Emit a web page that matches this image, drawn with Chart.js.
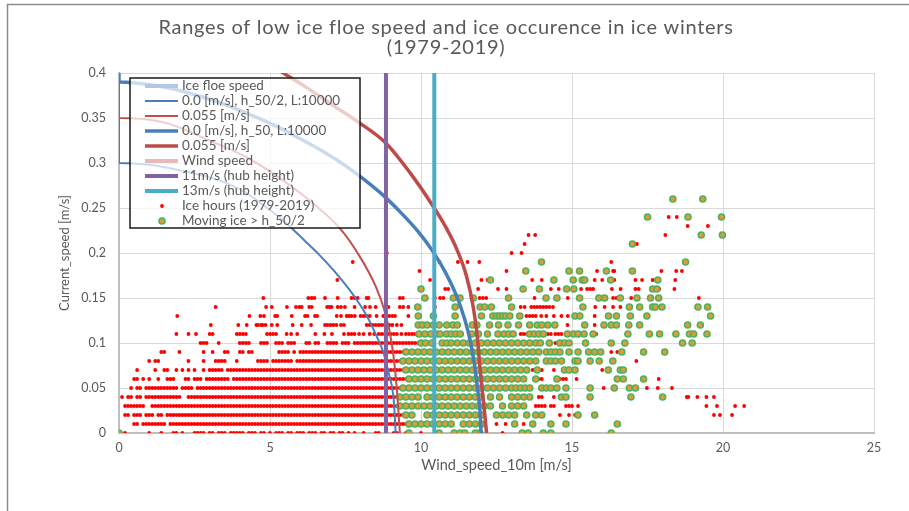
<!DOCTYPE html>
<html>
<head>
<meta charset="utf-8">
<script src="https://cdn.jsdelivr.net/npm/chart.js@4/dist/chart.umd.min.js"></script>
<style>
  html, body { margin: 0; padding: 0; background: #ffffff; }
  canvas { display: block; }
</style>
</head>
<body>
<canvas id="iceChart" width="909" height="511"></canvas>
<script>
// =============================
// Title / axis texts
// =============================
const titleLines = ["Ranges of low ice floe speed and ice occurence in ice winters", "(1979-2019)"];
const xTitle = "Wind_speed_10m [m/s]";
const yTitle = "Current_speed [m/s]";

// axis ranges
const windMax = 25;
const windStep = 5;
const currentMax = 0.4;
const currentStep = 0.05;

// =============================
// Ice floe speed curves (wind, current)
// =============================
// 0.0 [m/s], h_50/2, L:10000
const halfWind    = [0, 0, 1.0, 2.0, 3.0, 3.6, 4.2, 4.67, 5.3, 5.8, 6.2, 6.6, 7.1, 7.59, 7.87, 8.1, 8.3, 8.55, 8.75, 8.92, 9.08, 9.13, 9.16];
const halfCurrent = [0.4, 0.3, 0.298, 0.292, 0.284, 0.277, 0.267, 0.256, 0.24, 0.225, 0.212, 0.199, 0.181, 0.161, 0.148, 0.136, 0.124, 0.106, 0.09, 0.068, 0.042, 0.02, 0];

// 0.055 [m/s] (h_50/2)
const halfRedWind    = [0, 0, 1.5, 3.0, 4.3, 5.5, 6.5, 7.35, 7.9, 8.5, 8.8, 9.03, 9.19, 9.3];
const halfRedCurrent = [0.4, 0.35, 0.345, 0.325, 0.305, 0.279, 0.253, 0.226, 0.2, 0.163, 0.135, 0.1, 0.053, 0];

// 0.0 [m/s], h_50, L:10000
const fullWind    = [0, 0, 1.2, 2.4, 3.5, 4.4, 5.2, 6.0, 6.8, 7.5, 8.1, 8.75, 9.3, 9.9, 10.41, 10.8, 11.18, 11.45, 11.62, 11.76, 11.87, 11.95, 11.99];
const fullCurrent = [0.4, 0.39, 0.386, 0.377, 0.365, 0.353, 0.341, 0.327, 0.312, 0.297, 0.282, 0.264, 0.246, 0.224, 0.201, 0.179, 0.152, 0.126, 0.104, 0.078, 0.05, 0.025, 0];

// 0.055 [m/s] (h_50)
const fullRedWind    = [4.3, 5.44, 6.2, 7.0, 7.9, 8.84, 9.64, 10.4, 10.8, 11.2, 11.5, 11.73, 11.86, 11.95, 12.05, 12.12, 12.17];
const fullRedCurrent = [0.425, 0.40, 0.384, 0.366, 0.346, 0.322, 0.289, 0.252, 0.23, 0.203, 0.175, 0.14, 0.108, 0.074, 0.04, 0.018, 0];

// hub height wind speeds translated to 10 m
const hub11Wind = 8.84;
const hub13Wind = 10.44;

// =============================
// Ice hours: one wind list per current level
// =============================
const currentLevels = [0, 0.01, 0.02, 0.03, 0.04, 0.05, 0.06, 0.07, 0.08, 0.09, 0.10, 0.11, 0.12, 0.13,
                       0.14, 0.15, 0.16, 0.17, 0.18, 0.19, 0.20, 0.21, 0.22, 0.23, 0.24, 0.25, 0.26];

const iceHoursWind = [
  [0.2,1,1.4,1.8,1.9,2.1,2.5,2.6,2.7,2.8,3,3.1,3.3,3.4,3.5,3.7,3.8,3.9,4,4.1,4.3,4.4,4.5,4.7,4.8,5,5.2,5.3,5.4,5.6,5.7,5.9,6,6.1,6.3,6.4,6.5,6.7,6.8,7,7.1,7.3,7.4,7.6,7.8,8.1,8.5,8.6,9.1,9.2,9.5,10,12.7],
  [0.5,0.6,0.8,0.9,1,1.1,1.2,1.3,1.4,1.5,1.7,1.8,1.9,2,2.1,2.2,2.3,2.4,2.5,2.6,2.7,2.8,2.9,3,3.1,3.2,3.3,3.4,3.5,3.6,3.7,3.8,3.9,4,4.1,4.2,4.3,4.4,4.5,4.6,4.7,4.8,4.9,5,5.1,5.2,5.3,5.4,5.5,5.6,5.7,5.8,5.9,6,6.1,6.2,6.3,6.4,6.5,6.6,6.7,6.8,6.9,7,7.1,7.2,7.3,7.4,7.5,7.6,7.7,7.8,7.9,8,8.1,8.2,8.3,8.4,8.5,8.6,8.7,8.8,8.9,9,9.1,9.2,9.3,9.4,9.5,12.1,12.5,12.8,13.4],
  [0.2,0.3,0.5,0.6,0.7,0.9,1,1.1,1.3,1.4,1.6,1.7,1.8,1.9,2,2.1,2.2,2.3,2.4,2.5,2.6,2.7,2.8,2.9,3,3.1,3.2,3.3,3.4,3.5,3.6,3.7,3.8,3.9,4,4.1,4.2,4.3,4.4,4.5,4.6,4.7,4.8,4.9,5,5.1,5.2,5.3,5.4,5.5,5.6,5.7,5.8,5.9,6,6.1,6.2,6.3,6.4,6.5,6.6,6.7,6.8,6.9,7,7.1,7.2,7.3,7.4,7.5,7.6,7.7,7.8,7.9,8,8.1,8.2,8.3,8.4,8.5,8.6,8.7,8.8,8.9,9,9.1,9.2,9.3,9.4,14.6,14.9,15.1,19.7,19.9,20.3],
  [0.2,0.3,0.4,0.5,0.6,0.7,0.8,1.1,1.2,1.3,1.4,1.5,1.6,1.7,1.8,1.9,2,2.1,2.2,2.3,2.4,2.5,2.6,2.7,2.8,2.9,3,3.1,3.2,3.3,3.4,3.5,3.6,3.7,3.8,3.9,4,4.1,4.2,4.3,4.4,4.5,4.6,4.7,4.8,4.9,5,5.1,5.2,5.3,5.4,5.5,5.6,5.7,5.8,5.9,6,6.1,6.2,6.3,6.4,6.5,6.6,6.7,6.8,6.9,7,7.1,7.2,7.3,7.4,7.5,7.6,7.7,7.8,7.9,8,8.1,8.2,8.3,8.4,8.5,8.6,8.7,8.8,8.9,9,9.1,9.2,9.3,13.8,13.9,14,14.1,14.3,14.4,14.8,14.9,15,15.2,19.45,19.8,20.4,20.7],
  [0.1,0.3,0.4,0.6,0.7,0.9,1,1.1,1.2,1.3,1.4,1.5,1.6,1.7,1.8,1.9,2,2.3,2.4,2.5,2.6,2.7,2.8,2.9,3,3.1,3.2,3.3,3.4,3.5,3.6,3.7,3.8,3.9,4,4.1,4.2,4.3,4.4,4.5,4.6,4.7,4.8,4.9,5,5.1,5.2,5.3,5.4,5.5,5.6,5.7,5.8,5.9,6,6.1,6.2,6.3,6.4,6.5,6.6,6.7,6.8,6.9,7,7.1,7.2,7.3,7.4,7.5,7.6,7.7,7.8,7.9,8,8.1,8.2,8.3,8.4,8.5,8.6,8.7,8.8,8.9,9,9.1,9.2,9.3,13.9,14,14.4,18.8,18.85,19.15,19.45,19.7],
  [0.4,0.6,0.7,0.9,1,1.1,1.2,1.3,1.4,1.5,1.6,1.7,1.8,1.9,2.1,2.2,2.3,2.4,2.6,2.7,2.8,2.9,3,3.1,3.2,3.3,3.4,3.5,3.6,3.7,3.8,3.9,4,4.1,4.2,4.3,4.4,4.5,4.6,4.7,4.8,4.9,5,5.1,5.2,5.3,5.4,5.5,5.6,5.7,5.8,5.9,6,6.1,6.2,6.3,6.4,6.5,6.6,6.7,6.8,6.9,7,7.1,7.2,7.3,7.4,7.5,7.6,7.7,7.8,7.9,8,8.1,8.2,8.3,8.4,8.5,8.6,8.7,8.8,8.9,9,9.1,9.2,9.3,16.05,17.48,17.84,18.31],
  [0.5,0.6,0.8,1,1.3,1.6,1.7,1.8,2.2,2.3,2.5,2.6,2.7,2.9,3,3.1,3.2,3.3,3.4,3.5,3.6,3.8,3.9,4,4.1,4.2,4.3,4.4,4.5,4.6,4.7,4.8,4.9,5,5.1,5.2,5.3,5.4,5.5,5.6,5.7,5.8,5.9,6,6.1,6.2,6.3,6.4,6.5,6.6,6.7,6.8,6.9,7,7.1,7.2,7.3,7.4,7.5,7.6,7.7,7.8,7.9,8,8.1,8.2,8.3,8.4,8.5,8.6,8.7,8.8,8.9,9,9.1,9.2,9.3,9.4,9.5,9.6,13.9,14,14.6,14.7,14.8,15.15,17.87],
  [0.6,1.2,1.5,1.6,1.9,2.1,2.3,2.5,2.8,3,3.1,3.2,3.3,3.4,3.6,3.7,3.8,3.9,4,4.1,4.2,4.3,4.4,4.5,4.6,4.7,4.8,4.9,5,5.1,5.2,5.3,5.4,5.5,5.6,5.7,5.8,5.9,6,6.1,6.2,6.3,6.4,6.5,6.6,6.7,6.8,6.9,7,7.1,7.2,7.3,7.4,7.5,7.6,7.7,7.8,7.9,8,8.1,8.2,8.3,8.4,8.5,8.6,8.7,8.8,8.9,9,9.1,9.2,9.3,9.4,9.5,13.7,13.8,13.9,14,14.4,16],
  [1,1.2,1.3,2.3,2.8,3.2,3.3,3.4,3.5,3.9,4.6,4.7,4.8,4.9,5.1,5.2,5.3,5.4,5.5,5.6,5.7,5.9,6,6.1,6.2,6.3,6.4,6.5,6.6,6.7,6.8,6.9,7,7.1,7.2,7.3,7.4,7.5,7.6,7.7,7.8,7.9,8,8.1,8.2,8.3,8.4,8.5,8.6,8.7,8.8,8.9,9,9.1,9.2,9.3,9.4,16.4,17.13],
  [1.4,1.5,2,2.8,3.1,3.5,3.6,4,4.1,4.3,4.4,5.3,5.4,5.5,5.6,5.8,6,6.1,6.2,6.3,6.4,6.5,6.6,6.7,6.8,6.9,7,7.1,7.2,7.3,7.4,7.5,7.6,7.7,7.8,7.9,8,8.1,8.2,8.3,8.4,8.5,8.6,8.7,8.8,8.9,9,9.1,9.2,9.3,9.4,9.5,16.3,16.5],
  [2.7,2.8,2.9,3.3,4,4.1,4.2,4.3,4.7,4.8,4.9,5.2,5.3,5.4,5.6,5.7,5.8,6.2,6.3,6.5,6.6,6.9,7,7.1,7.2,7.4,7.5,7.6,7.8,7.9,8,8.1,8.2,8.3,8.4,8.5,8.6,8.7,8.8,8.9,9,9.1,9.2,9.3,9.4,9.5,9.6,9.7,9.8,9.9,14.45],
  [1.9,2.3,2.55,3,3.1,3.9,4,4.1,4.2,4.9,5,5.1,5.2,5.55,5.7,5.9,6.5,6.8,7.05,7.45,7.6,7.7,7.8,7.95,8.1,8.3,8.45,8.6,8.7,8.8,8.9,9,9.1,9.2,9.35,9.5,9.6,9.7,9.8,13.3,13.4,13.5,14.2,14.3,14.45,14.55,14.65,15.8],
  [3.04,3.95,4.23,4.55,4.6,4.7,4.75,4.85,5.06,5.24,5.75,6.05,6.36,6.82,6.9,7,7.1,7.2,7.35,7.45,8.2,8.3,8.4,8.5,8.6,8.7,8.8,8.95,9.05,9.2,9.35,14.85,15.75],
  [1.93,4.32,4.68,4.8,5.17,5.24,5.72,6.16,6.24,6.49,6.56,7.21,7.35,7.54,7.62,7.7,7.81,8,8.1,8.2,8.3,8.53,8.75,8.85,8.95,9.05,9.14,9.58,13.49,13.6,13.7,13.8,13.98,14.15,14.4,14.65,14.86,15.75],
  [3.2,4.87,5.06,5.56,5.86,5.97,6.05,6.3,6.38,6.89,6.97,7.04,7.24,7.35,7.48,7.8,8.15,8.31,8.5,8.92,9.3,9.41,9.58,10.46,13.3,13.43,13.65,13.75,13.85,13.95,14.05,14.15,14.25,14.37,15.77,16.08,16.36,16.6],
  [4.78,6.27,6.38,6.47,6.82,7.24,7.7,7.8,7.9,8.2,8.26,9.3,9.4,10.46,10.63,10.74,11.94,12.05,12.16,13.76,14.86,16.36,16.47,16.96,19.2],
  [10.8,10.9,11.89,12.55,12.83,14.3,14.56,15.3,15.5,15.6,15.7,16.32,16.61,17.1,17.21,17.89,18.39],
  [7.23,10.3,12,12.2,13.68,14,15.75,16,16.4,17.1,17.32,17.67,18.42],
  [9.95,12.83,15.83,16.36,16.4,17.96,18.45,18.64],
  [7.74,10.61,11.22,11.54,11.93,16.3],
  [8.87,13,13.33],
  [13.43,17.15],
  [13.56,13.78,18.09],
  [18.83,19.5],
  [18.2,18.47],
  [],
  []
];

// Moving ice > h_50/2, same current levels
const movingIceWind = [
  [0,9.6,10.6,11.1,11.3,11.45,11.8,11.95,13.35,13.55,14.05,14.3,16.3],
  [9.6,9.8,10,10.2,10.4,10.6,10.8,11,11.4,11.6,11.8,12,13.1,13.7,14.3,14.8,16.5],
  [9.5,9.7,10.2,10.4,10.6,10.8,11,11.2,11.4,11.6,11.8,12,12.5,12.7,12.9,13.1,13.5,13.8,14,15.2,15.75],
  [9.3,9.5,9.7,9.9,10.1,10.3,10.5,10.7,10.9,11.1,11.3,11.5,11.7,11.9,12.1,12.3,12.7,13,13.2,13.4],
  [9.3,9.5,9.7,9.9,10.2,10.4,10.6,10.8,11,11.2,11.4,11.6,11.8,12,12.3,12.6,13,13.2,13.4,13.6,14.65,14.8,15.6,16.95,18],
  [9.4,9.6,9.8,10,10.2,10.4,10.6,10.8,11,11.2,11.4,11.6,11.8,12,12.2,12.4,12.6,12.8,13,13.15,13.3,13.45,13.6,14,14.15,14.3,14.5,14.8,15.6,16.4,16.9,17.1],
  [9.6,9.8,10,10.2,10.4,10.6,10.8,11,11.2,11.4,11.6,11.8,12,12.2,12.4,12.6,12.8,13,13.2,13.4,13.8,14.5,16.5,16.7,17.37],
  [9.5,9.7,9.9,10.1,10.3,10.5,10.7,10.9,11.1,11.3,11.5,11.7,11.9,12.1,12.3,12.5,12.7,12.9,13.1,13.3,13.5,13.85,14.75,14.9,15.1,16.2,16.6,16.7],
  [9.4,9.6,9.8,10,10.2,10.4,10.6,10.8,11,11.2,11.4,11.6,11.8,12,12.2,12.4,12.6,12.8,13,13.2,13.4,13.6,13.8,14.15,14.3,14.45,14.65,15.1,15.2,15.6,15.9,16.35],
  [9.5,9.7,9.9,10.1,10.3,10.5,10.7,10.9,11.1,11.3,11.5,11.7,11.9,12.1,12.3,12.5,12.7,12.9,13.1,13.3,13.5,13.7,13.9,14.15,14.3,14.45,14.6,14.9,15.2,15.55,15.75,15.95,16.65,17.37,18.07],
  [10,10.15,10.35,10.7,10.85,11,11.2,11.4,11.6,11.8,12,12.2,12.4,12.6,12.8,13,13.2,13.4,13.6,13.8,13.95,14.25,14.6,14.75,14.9,15.45,16.3,16.75,18.66,18.98],
  [9.93,10.13,10.33,10.52,10.63,10.85,11,11.15,11.3,11.68,11.9,12.2,12.55,12.75,12.9,13.05,13.6,13.75,13.9,14.05,14.85,15.05,15.2,15.4,15.7,16.85,17.56,17.9,18.44,18.89,19.03,19.47],
  [9.91,10.05,10.2,10.41,10.6,10.85,11.05,11.2,11.7,11.85,12.27,12.57,12.88,13.23,13.6,13.85,14,14.2,14.43,15.42,16.06,16.3,16.47,16.88,17.24,18.83,19.25],
  [9.91,10.41,11.13,12,12.38,12.5,12.6,12.7,12.8,12.94,13.27,15.1,15.26,16.21,16.47,16.93,17.48,19.59],
  [9.89,11.13,11.96,12.11,12.33,13,15.36,16.9,17.24,17.67,17.76,17.98,19.17,19.49],
  [10.13,11.07,11.29,11.73,12.9,14.14,14.5,15.25,15.89,16.08,16.6,17.15,17.6,17.87],
  [10,13.38,13.92,14.82,15.06,17.67,17.81],
  [12.3,14.4,15.04,15.34,15.42,16.28,17.84],
  [13.47,14.9,15.25,16.14,17],
  [13.99,18.76],
  [],
  [17],
  [19.28,19.98],
  [],
  [17.5,18.84,19.95],
  [],
  [18.34,19.33]
];

// =============================
// helpers to build chart data
// =============================
function toPoints(xs, ys){
    return xs.map((x,i)=>({x:x, y:ys[i]}));
}

function levelPoints(rows){
    const pts = [];
    rows.forEach((row,i)=>{
        row.forEach(x=> pts.push({x:x, y:currentLevels[i]}));
    });
    return pts;
}

function vertical(x){
    return [{x:x, y:0}, {x:x, y:currentMax}];
}

const lineDefaults = {showLine:true, pointRadius:0, tension:0, fill:false, order:1};
const curveDefaults = {...lineDefaults, cubicInterpolationMode:"monotone"};

const datasets = [
    {...lineDefaults, label:"Ice floe speed", data:[], borderColor:"#b4c7e7", borderWidth:4},
    {...curveDefaults, label:"0.0 [m/s], h_50/2, L:10000", data:toPoints(halfWind, halfCurrent), borderColor:"#4a7ebb", borderWidth:2},
    {...curveDefaults, label:"0.055 [m/s]", data:toPoints(halfRedWind, halfRedCurrent), borderColor:"#c0504d", borderWidth:2},
    {...curveDefaults, label:"0.0 [m/s], h_50, L:10000", data:toPoints(fullWind, fullCurrent), borderColor:"#4a7ebb", borderWidth:3.5},
    {...curveDefaults, label:"0.055 [m/s]", data:toPoints(fullRedWind, fullRedCurrent), borderColor:"#be4b48", borderWidth:3.5},
    {...lineDefaults, label:"Wind speed", data:[], borderColor:"#e6b9b8", borderWidth:4},
    {...lineDefaults, label:"11m/s (hub height)", data:vertical(hub11Wind), borderColor:"#8064a2", borderWidth:4, order:0},
    {...lineDefaults, label:"13m/s (hub height)", data:vertical(hub13Wind), borderColor:"#4bacc6", borderWidth:4, order:0},
    {label:"Ice hours (1979-2019)", data:levelPoints(iceHoursWind), showLine:false,
     pointRadius:1.9, pointBorderWidth:0, pointBackgroundColor:"#ff0000", pointBorderColor:"#ff0000", order:3},
    {label:"Moving ice > h_50/2", data:levelPoints(movingIceWind), showLine:false,
     pointRadius:3, pointBorderWidth:1.6, pointBackgroundColor:"#e09a3c", pointBorderColor:"#4cb35a", order:2}
];

// =============================
// plugins: frame + title, legend box
// =============================
const frameTitle = {
    id:"frameTitle",
    beforeDraw(chart){
        const ctx = chart.ctx;
        ctx.save();
        ctx.fillStyle = "#ffffff";
        ctx.fillRect(0,0,chart.width,chart.height);
        ctx.strokeStyle = "#8c8c8c";
        ctx.lineWidth = 1.5;
        ctx.beginPath();
        ctx.moveTo(7.5, chart.height);
        ctx.lineTo(7.5, 4.5);
        ctx.lineTo(chart.width, 4.5);
        ctx.stroke();
        ctx.fillStyle = "#595959";
        ctx.font = "20px Lato";
        ctx.letterSpacing = "0.7px";
        ctx.textAlign = "center";
        ctx.textBaseline = "middle";
        ctx.fillText(titleLines[0], 446, 28);
        ctx.fillText(titleLines[1], 446, 48);
        ctx.restore();
    }
};

const legendBox = {
    id:"legendBox",
    afterDraw(chart){
        const ctx = chart.ctx;
        const area = chart.chartArea;
        const x0 = area.left + 11, y0 = area.top + 5, w = 230, h = 150;
        ctx.save();
        ctx.fillStyle = "rgba(255,255,255,0.72)";
        ctx.fillRect(x0, y0, w, h);
        ctx.strokeStyle = "#1a1a1a";
        ctx.lineWidth = 1.5;
        ctx.strokeRect(x0, y0, w, h);
        ctx.font = "13.5px Lato";
        ctx.textAlign = "left";
        ctx.textBaseline = "middle";
        chart.data.datasets.forEach((ds,i)=>{
            const cy = y0 + 8 + i*15;
            if(ds.showLine){
                ctx.strokeStyle = ds.borderColor;
                ctx.lineWidth = ds.borderWidth;
                ctx.beginPath();
                ctx.moveTo(x0+15, cy);
                ctx.lineTo(x0+48, cy);
                ctx.stroke();
            } else {
                ctx.beginPath();
                ctx.arc(x0+32, cy, ds.pointRadius, 0, Math.PI*2);
                ctx.fillStyle = ds.pointBackgroundColor;
                ctx.fill();
                if(ds.pointBorderWidth){
                    ctx.lineWidth = ds.pointBorderWidth;
                    ctx.strokeStyle = ds.pointBorderColor;
                    ctx.stroke();
                }
            }
            ctx.fillStyle = "#595959";
            ctx.fillText(ds.label, x0+52, cy);
        });
        ctx.restore();
    }
};

// =============================
// chart
// =============================
Chart.defaults.font.family = "Lato";
Chart.defaults.color = "#595959";

new Chart(document.getElementById("iceChart"),{
    type:"scatter",
    data:{datasets:datasets},
    options:{
        responsive:false,
        animation:false,
        devicePixelRatio:1,
        layout:{padding:{top:73, right:35, left:0, bottom:0}},
        plugins:{
            legend:{display:false},
            tooltip:{enabled:false},
            title:{display:false}
        },
        scales:{
            x:{
                type:"linear", min:0, max:windMax,
                ticks:{stepSize:windStep, padding:7, font:{size:12.5}},
                grid:{color:"#d9d9d9", drawTicks:false},
                border:{color:"#bfbfbf", width:2},
                title:{display:true, text:xTitle, font:{size:14.5}, padding:{top:0, bottom:37}},
                afterFit(scale){ scale.height = 78; }
            },
            y:{
                type:"linear", min:0, max:currentMax,
                ticks:{stepSize:currentStep, padding:13, font:{size:12.5},
                       callback:v=> String(+v.toFixed(2))},
                grid:{color:"#d9d9d9", drawTicks:false},
                border:{color:"#bfbfbf", width:2},
                title:{display:true, text:yTitle, font:{size:13}, padding:{top:57, bottom:0}},
                afterFit(scale){ scale.width = 119; }
            }
        }
    },
    plugins:[frameTitle, legendBox]
});
</script>
</body>
</html>
